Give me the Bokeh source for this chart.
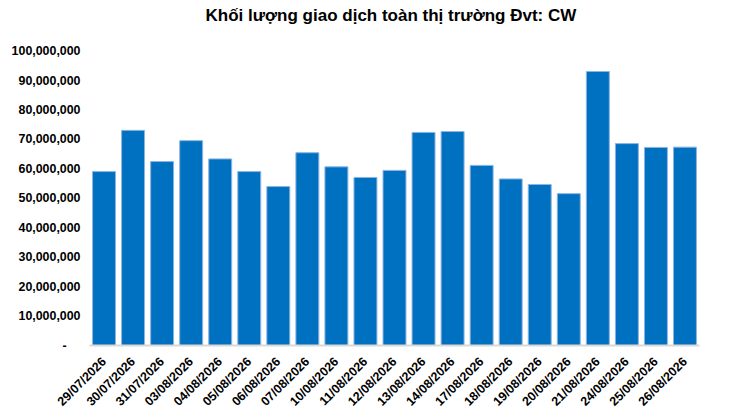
from bokeh.plotting import figure
from bokeh.models import Range1d, FixedTicker, CustomJSTickFormatter
from bokeh.embed import file_html
from bokeh.resources import INLINE
import math

dates = ["29/07/2026", "30/07/2026", "31/07/2026", "03/08/2026", "04/08/2026",
         "05/08/2026", "06/08/2026", "07/08/2026", "10/08/2026", "11/08/2026",
         "12/08/2026", "13/08/2026", "14/08/2026", "17/08/2026", "18/08/2026",
         "19/08/2026", "20/08/2026", "21/08/2026", "24/08/2026", "25/08/2026",
         "26/08/2026"]
volumes = [59100000, 73100000, 62500000, 69600000, 63400000,
           59100000, 54000000, 65500000, 60700000, 57100000,
           59500000, 72400000, 72700000, 61200000, 56600000,
           54700000, 51600000, 93100000, 68600000, 67300000,
           67400000]
y_ticks = [0, 10000000, 20000000, 30000000, 40000000, 50000000,
           60000000, 70000000, 80000000, 90000000, 100000000]
title_text = "Khối lượng giao dịch toàn thị trường Đvt: CW"

FONT = "Liberation Sans"

p = figure(x_range=dates, y_range=Range1d(0, 108050000),
           width=737, height=418,
           min_border_left=89, min_border_right=38,
           min_border_top=27, min_border_bottom=73,
           output_backend="svg", toolbar_location=None,
           title=title_text)

p.vbar(x=dates, top=volumes, width=0.79, fill_color="#0070C0",
       line_color="#8DB4E2", line_width=1)

p.title.text_font = FONT
p.title.text_font_size = "17px"
p.title.text_font_style = "bold"
p.title.align = "left"
p.title.offset = 116
p.title.text_color = "#000000"
p.title.standoff = 5

p.xgrid.grid_line_color = None
p.ygrid.grid_line_color = None
p.outline_line_color = None
p.background_fill_color = "white"
p.border_fill_color = "white"

p.yaxis.ticker = FixedTicker(ticks=y_ticks)
p.yaxis.formatter = CustomJSTickFormatter(
    code="return tick == 0 ? '-\u2007\u2007' : Math.round(tick).toLocaleString('en-US');")
p.yaxis.axis_line_color = None
p.yaxis.major_tick_line_color = None
p.yaxis.minor_tick_line_color = None
p.yaxis.major_tick_out = 0
p.yaxis.major_label_standoff = 9
p.yaxis.major_label_text_font = FONT
p.yaxis.major_label_text_font_size = "12.4px"
p.yaxis.major_label_text_font_style = "bold"
p.yaxis.major_label_text_color = "#000000"

p.xaxis.axis_line_color = "#D9D9D9"
p.xaxis.axis_line_width = 2
p.xaxis.major_tick_line_color = None
p.xaxis.minor_tick_line_color = None
p.xaxis.major_tick_out = 0
p.xaxis.major_label_standoff = 14
p.xaxis.major_label_orientation = math.pi / 4
p.xaxis.major_label_text_font = FONT
p.xaxis.major_label_text_font_size = "12.5px"
p.xaxis.major_label_text_font_style = "bold"
p.xaxis.major_label_text_color = "#000000"

open("out.html", "w").write(file_html(p, INLINE))
